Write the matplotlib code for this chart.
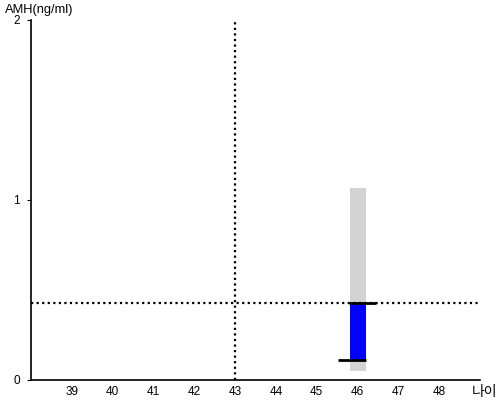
import matplotlib
matplotlib.use("Agg")
import matplotlib.pyplot as plt

plt.rcParams['font.family'] = ['Liberation Sans', 'Noto Sans CJK KR', 'DejaVu Sans']

x_ticks = [39, 40, 41, 42, 43, 44, 45, 46, 47, 48]
y_ticks = [0, 1, 2]
age = 46
range_low, range_high = 0.05, 1.067
amh_value = 0.428
amh_low = 0.111
ref_age = 43
bar_width = 0.39

fig = plt.figure(figsize=(5, 4), dpi=100)
ax = fig.add_axes([0.062, 0.05, 0.898, 0.9])
ax.set_xlim(38, 49)
ax.set_ylim(0, 2)

ax.bar(age, range_high - range_low, bottom=range_low, width=bar_width, color='#d3d3d3', zorder=1)
ax.bar(age, amh_value - amh_low, bottom=amh_low, width=bar_width, color='#0000ff', zorder=2)
ax.hlines(amh_low, 45.51, 46.196, color='black', lw=2, zorder=3)
ax.hlines(amh_value, 45.80, 46.44, color='black', lw=2, zorder=3)

ax.axhline(amh_value, color='black', lw=1.6, ls=(0, (1, 1.5)), zorder=2.5)
ax.axvline(ref_age, color='black', lw=1.6, ls=(0, (1, 1.5)), zorder=2.5)

ax.set_xticks(x_ticks)
ax.set_xticklabels([str(v) for v in x_ticks], fontsize=8.5)
ax.set_yticks(y_ticks)
ax.set_yticklabels([str(v) for v in y_ticks], fontsize=8.5)
ax.tick_params(axis='x', length=0, pad=4)
ax.tick_params(axis='y', length=3, pad=5)
for s in ['top', 'right']:
    ax.spines[s].set_visible(False)
ax.spines['left'].set_linewidth(1.2)
ax.spines['bottom'].set_linewidth(1.2)

fig.text(0.01, 0.975, 'AMH(ng/ml)', fontsize=9.3, va='center', ha='left')
fig.text(0.994, 0.019, '나이', fontsize=10, va='center', ha='right', family=['Noto Sans CJK KR', 'DejaVu Sans'])

fig.savefig('out.png', dpi=100)
